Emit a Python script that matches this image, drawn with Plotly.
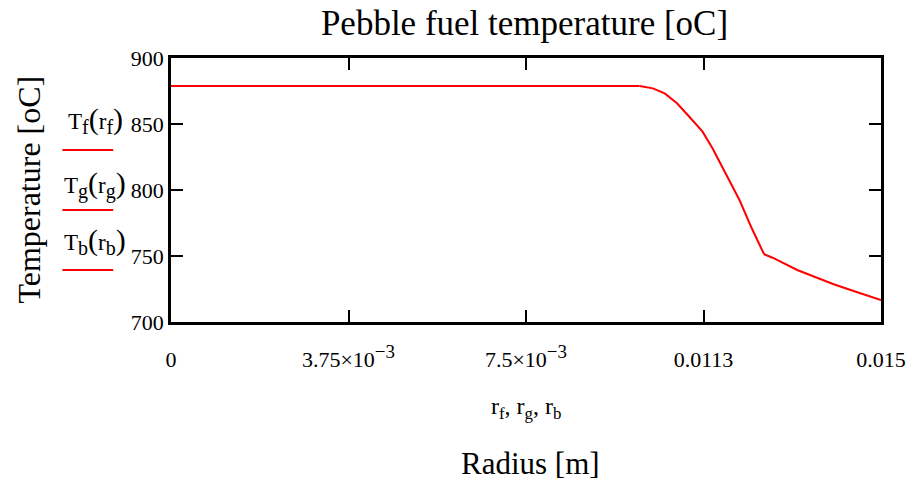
import plotly.graph_objects as go

# ---- data ----
r_f = [0.0, 0.001, 0.002, 0.003, 0.004, 0.005, 0.006, 0.007, 0.008, 0.009, 0.0099]
T_f = [878.8, 878.8, 878.8, 878.8, 878.8, 878.8, 878.8, 878.8, 878.8, 878.8, 878.8]
r_g = [0.0099, 0.01018, 0.01043, 0.01069, 0.01095, 0.01123, 0.01144, 0.01172, 0.01201, 0.01227, 0.01253]
T_g = [878.8, 877.0, 873.2, 865.7, 855.5, 844.2, 831.6, 812.6, 792.4, 771.0, 751.3]
r_b = [0.01253, 0.01271, 0.01323, 0.01369, 0.01400, 0.01450, 0.01500]
T_b = [751.3, 748.7, 739.4, 733.1, 728.6, 722.5, 716.7]

x_tickvals = [0, 0.00375, 0.0075, 0.01125, 0.015]
x_ticktext = ["0",
              "3.75×10<sup><span style='font-size:19px'>−3</span></sup>",
              "7.5×10<sup><span style='font-size:19px'>−3</span></sup>",
              "0.0113", "0.015"]
y_tickvals = [700, 750, 800, 850, 900]

def leg(s):
    return ("T<sub><span style='font-size:20px'>%s</span></sub>"
            "<span style='font-size:30px'>(</span>r<sub><span style='font-size:20px'>%s</span></sub>"
            "<span style='font-size:30px'>)</span>") % (s, s)

legend_labels = [leg("f"), leg("g"), leg("b")]

FONT = "Liberation Serif"
RED = "#ff0000"

fig = go.Figure()
for rx, ty in [(r_f, T_f), (r_g, T_g), (r_b, T_b)]:
    fig.add_trace(go.Scatter(x=rx, y=ty, mode="lines",
                             line=dict(color=RED, width=2), showlegend=False))

L, R, T, B = 171, 34, 58, 159
W, H = 918, 481
pw, ph = W - L - R, H - T - B

def px2x(px):
    return (px - L) / pw

def py2y(py):
    return (H - B - py) / ph

fig.update_layout(
    width=W, height=H,
    margin=dict(l=L, r=R, t=T, b=B),
    paper_bgcolor="white", plot_bgcolor="white",
    font=dict(family=FONT, color="black", size=22),
    showlegend=False,
    title=dict(text="Pebble fuel temperature [oC]", x=(317 + 732) / 2 / W, xanchor="center",
               y=1 - 23 / H, yanchor="middle", yref="container",
               font=dict(family=FONT, size=35, color="black")),
)

fig.update_xaxes(range=[0, 0.015], tickvals=x_tickvals, ticktext=x_ticktext,
                 ticks="inside", ticklen=12, tickwidth=2, tickcolor="black",
                 showline=True, linewidth=2.5, linecolor="black", mirror="ticks",
                 showgrid=False, zeroline=False, ticklabelstandoff=16,
                 tickfont=dict(family=FONT, size=22))
fig.update_yaxes(range=[700, 900], tickvals=y_tickvals,
                 ticks="inside", ticklen=12, tickwidth=2, tickcolor="black",
                 showline=True, linewidth=2.5, linecolor="black", mirror="ticks",
                 showgrid=False, zeroline=False, ticklabelstandoff=0,
                 tickfont=dict(family=FONT, size=22))

# axis titles
fig.add_annotation(text="r<sub>f</sub>, r<sub>g</sub>, r<sub>b</sub>", x=px2x(527), y=py2y(408),
                   xref="paper", yref="paper", showarrow=False, xanchor="center", yanchor="middle",
                   font=dict(family=FONT, size=24))
fig.add_annotation(text="Radius [m]", x=px2x(532), y=py2y(463),
                   xref="paper", yref="paper", showarrow=False, xanchor="center", yanchor="middle",
                   font=dict(family=FONT, size=31))
fig.add_annotation(text="Temperature [oC]", x=px2x(28), y=py2y(190), textangle=-90,
                   xref="paper", yref="paper", showarrow=False, xanchor="center", yanchor="middle",
                   font=dict(family=FONT, size=32))

# legend-like labels
label_y = [120, 184, 241]
line_y = [150, 210, 270]
for lab, ly, lny in zip(legend_labels, label_y, line_y):
    fig.add_annotation(text=lab, x=px2x(95), y=py2y(ly), xref="paper", yref="paper",
                       showarrow=False, xanchor="center", yanchor="middle",
                       font=dict(family=FONT, size=23))
    fig.add_shape(type="line", xref="paper", yref="paper",
                  x0=px2x(62), x1=px2x(113), y0=py2y(lny), y1=py2y(lny),
                  line=dict(color=RED, width=2))

fig.write_html("out.html")
